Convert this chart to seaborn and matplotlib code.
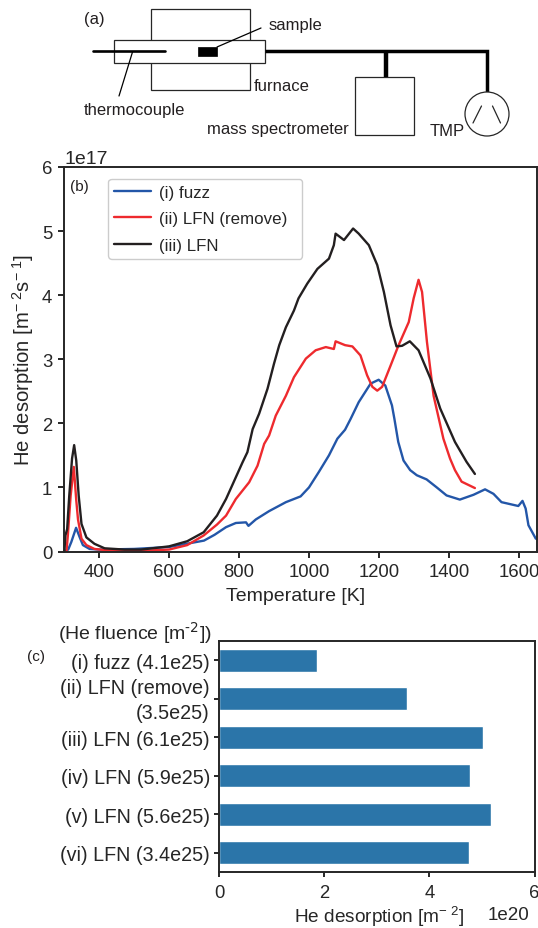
#!/usr/bin/env python
# TDS figure: (a) setup sketch, (b) desorption curves, (c) total desorption bars
import numpy as np
import pandas as pd
import matplotlib
matplotlib.use("Agg")
import matplotlib.pyplot as plt
from matplotlib.patches import Rectangle, Circle
from matplotlib.transforms import ScaledTranslation
import seaborn as sns

# Curves, He desorption in 1e17 m-2 s-1
fuzz_T = [300, 312, 321, 334.5, 345, 354, 373, 400, 500, 600, 650, 700, 730, 763, 791, 820, 827, 848, 886, 934, 976,
          1000, 1028, 1057, 1081, 1103, 1119, 1142, 1176, 1199, 1218, 1237, 1244, 1255, 1270, 1289, 1308, 1336, 1365,
          1393, 1431, 1470, 1503, 1527, 1550, 1598, 1610, 1619, 1627, 1648]
fuzz_v = [0, 0.03, 0.15, 0.37, 0.22, 0.1, 0.04, 0.03, 0.04, 0.07, 0.12, 0.17, 0.26, 0.38, 0.445, 0.455, 0.40, 0.5, 0.63, 0.77, 0.86,
          1.0, 1.24, 1.5, 1.76, 1.9, 2.07, 2.33, 2.62, 2.68, 2.59, 2.28, 2.07, 1.71, 1.42, 1.27, 1.19, 1.125, 1.0,
          0.875, 0.81, 0.885, 0.97, 0.9, 0.77, 0.71, 0.79, 0.67, 0.41, 0.2]
remove_T = [307, 311, 319, 328, 335, 340, 350, 364, 387, 420, 520, 600, 652, 699, 737, 763, 791, 829, 853, 872, 886, 905, 934, 957,
            991, 1019, 1048, 1071, 1076, 1103, 1124, 1147, 1166, 1181, 1195, 1209, 1233, 1256, 1285, 1299, 1313, 1323, 1337, 1356,
            1384, 1403, 1417, 1436, 1474]
remove_v = [0, 0.25, 0.87, 1.32, 0.8, 0.5, 0.2, 0.1, 0.04, 0.02, 0.01, 0.03, 0.1, 0.25, 0.42, 0.56, 0.82, 1.08, 1.34, 1.68, 1.81, 2.12, 2.43, 2.72,
            3.01, 3.14, 3.19, 3.16, 3.28, 3.22, 3.2, 3.06, 2.75, 2.57, 2.51, 2.57, 2.9, 3.22, 3.58, 3.95, 4.24, 4.05, 3.27, 2.43,
            1.76, 1.45, 1.27, 1.09, 0.99]
lfn_T = [301, 304, 309, 315, 323, 329, 335, 342, 350, 364, 387, 416, 473, 520, 600, 652, 699, 737, 763, 782, 810, 824, 839, 857.5,
         881.5, 900, 915, 934, 957, 970, 995, 1024, 1057, 1071, 1076, 1100, 1126, 1142, 1171, 1195, 1214, 1233, 1250, 1266, 1288,
         1313, 1347, 1375, 1417, 1450, 1474]
lfn_v = [0, 0.25, 0.35, 0.87, 1.45, 1.66, 1.42, 0.87, 0.43, 0.22, 0.12, 0.05, 0.03, 0.03, 0.08, 0.16, 0.3, 0.56, 0.82, 1.05, 1.39, 1.55, 1.91, 2.15,
         2.54, 2.93, 3.22, 3.5, 3.76, 3.95, 4.18, 4.41, 4.57, 4.78, 4.96, 4.86, 5.04, 4.96, 4.78, 4.47, 4.05, 3.53, 3.2, 3.21, 3.28,
         3.14, 2.7, 2.23, 1.71, 1.4, 1.21]

# Bars, total He desorption in 1e20 m-2
samples = ["(i) fuzz (4.1e25)", "(ii) LFN (remove)\n(3.5e25)", "(iii) LFN (6.1e25)",
           "(iv) LFN (5.9e25)", "(v) LFN (5.6e25)", "(vi) LFN (3.4e25)"]
totals = [1.87, 3.58, 5.03, 4.77, 5.18, 4.75]

W, H = 538, 929
INK = "#262626"

sns.set_theme(style="ticks", context="notebook")
plt.rcParams["font.family"] = ["Liberation Sans", "DejaVu Sans"]
plt.rcParams["mathtext.default"] = "regular"
plt.rcParams["axes.linewidth"] = 1.4
plt.rcParams["text.color"] = INK


def px_axes(fig, left, top, right, bottom):
    return fig.add_axes([left / W, 1 - bottom / H, (right - left) / W, (bottom - top) / H])


fig = plt.figure(figsize=(W / 100, H / 100), dpi=100)

# (a) sketch, drawn in pixel space
sk = fig.add_axes([0, 0, 1, 1], zorder=0)
sk.set_xlim(0, W)
sk.set_ylim(H, 0)
sk.axis("off")
sk.add_patch(Rectangle((151, 9.5), 99, 81.5, fc="white", ec=INK, lw=0.9))
sk.add_patch(Rectangle((114, 41), 151, 22.5, fc="white", ec=INK, lw=0.9, zorder=2))
sk.add_patch(Rectangle((198, 47.5), 19, 9.5, fc="black", ec="black", lw=0.5, zorder=3))
sk.plot([93, 165], [52, 52], color="black", lw=1.9, zorder=3)
sk.plot([217, 261], [48, 29], color="black", lw=0.9, zorder=3)
sk.plot([132.5, 119], [53, 97], color="black", lw=0.9, zorder=3)
sk.plot([265, 487, 487], [52, 52, 94], color="black", lw=2.5, solid_joinstyle="miter", solid_capstyle="butt")
sk.plot([385.5, 385.5], [52, 78], color="black", lw=3.2, solid_capstyle="butt")
sk.add_patch(Rectangle((355, 78), 59, 58, fc="white", ec=INK, lw=0.9))
sk.add_patch(Circle((487, 115), 22, fc="white", ec=INK, lw=0.9, zorder=2))
sk.plot([473, 481.5], [124, 107], color=INK, lw=0.9, zorder=3)
sk.plot([500.5, 492.5], [124, 107], color=INK, lw=0.9, zorder=3)
for x, y, s in [(84, 19, "(a)"), (269, 25, "sample"), (254, 86, "furnace"), (84, 110, "thermocouple"),
                (207, 129, "mass spectrometer"), (430, 131, "TMP")]:
    sk.text(x, y, s, fontsize=12, va="center", ha="left", color="#231f20", zorder=4)
sk.text(70, 187, "(b)", fontsize=11, va="center", color="#231f20", zorder=6)
sk.text(27, 657, "(c)", fontsize=11, va="center", color="#231f20", zorder=6)
sk.text(212, 633, r"(He fluence [m$^{\text{-2}}$])", fontsize=14, va="center", ha="right", zorder=6)

# (b) desorption curves
ax = px_axes(fig, 64, 168, 536.5, 552.5)
ax.set_zorder(1)
ax.patch.set_alpha(0)
for T, v, name, col in [(fuzz_T, fuzz_v, "(i) fuzz", "#2356a8"),
                        (remove_T, remove_v, "(ii) LFN (remove)", "#ee2a2e"),
                        (lfn_T, lfn_v, "(iii) LFN", "#231f20")]:
    curve = pd.DataFrame({"T": T, "v": np.array(v) * 1e17})
    sns.lineplot(data=curve, x="T", y="v", ax=ax, color=col, lw=1.7, label=name, estimator=None, sort=False)
ax.set_xlim(300, 1650)
ax.set_ylim(0, 6e17)
ax.set_xticks([400, 600, 800, 1000, 1200, 1400, 1600])
ax.set_xlabel("Temperature [K]", fontsize=14, labelpad=5, color=INK, x=0.491)
ax.set_ylabel(r"He desorption [m$^{-\;2}$s$^{-\;1}$]", fontsize=14.6, labelpad=4, color=INK)
ax.tick_params(labelsize=13.3, length=4, width=1.4, colors=INK, pad=4.5)
ax.yaxis.get_offset_text().set_fontsize(14)
ax.yaxis.get_offset_text().set_color(INK)
ax.legend(loc="upper left", bbox_to_anchor=(0.0941, 0.969, 0.4106, 0.0), mode="expand", fontsize=12.2, frameon=True,
          handlelength=2.18, labelspacing=0.68, borderpad=0.35, handletextpad=0.47, borderaxespad=0,
          edgecolor="#cccccc", framealpha=1)

# (c) total desorption
bx = px_axes(fig, 219, 642, 534.5, 873)
bx.set_zorder(1)
bx.patch.set_alpha(0)
table = pd.DataFrame({"sample": samples, "total": np.array(totals) * 1e20})
sns.barplot(data=table, x="total", y="sample", ax=bx, color="#2b75a9", saturation=1, width=0.61, orient="h")
bx.set_xlim(0, 6e20)
bx.set_xticks([0, 2e20, 4e20, 6e20])
bx.set_ylabel("")
bx.set_xlabel(r"He desorption [m$^{-\;2}$]", fontsize=13.7, labelpad=2.5, color=INK, x=0.508)
bx.tick_params(axis="x", labelsize=13.3, length=3.5, width=1.4, colors=INK, pad=5)
bx.tick_params(axis="y", labelsize=14.2, length=3.5, width=1.4, colors=INK, pad=3)
# two-line label sits a bit high in the original
two_line = bx.get_yticklabels()[1]
two_line.set_linespacing(1.4)
two_line.set_transform(two_line.get_transform() + ScaledTranslation(0, 2.5 / 72, fig.dpi_scale_trans))
bx.xaxis.OFFSETTEXTPAD = 4
bx.xaxis.get_offset_text().set_fontsize(13.5)
bx.xaxis.get_offset_text().set_color(INK)
bx.xaxis.get_offset_text().set_x(0.984)

fig.savefig("out.png", dpi=100)
plt.close(fig)
